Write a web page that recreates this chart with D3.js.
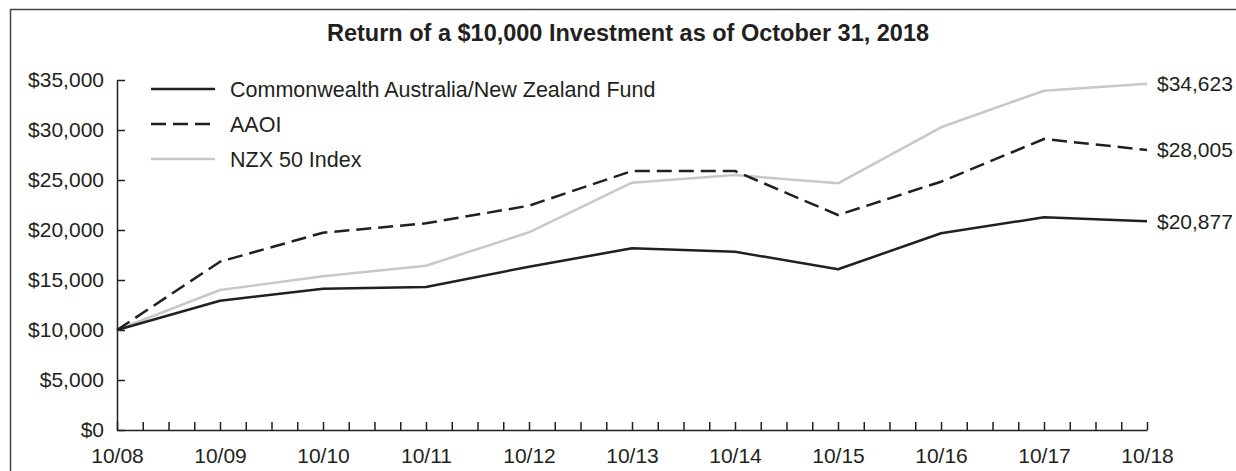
<!DOCTYPE html>
<html>
<head>
<meta charset="utf-8">
<script src="https://cdn.jsdelivr.net/npm/d3@7"></script>
<style>
  body { margin: 0; background: #fff; }
  svg { display: block; font-family: "Liberation Sans", Arial, Helvetica, sans-serif; }
  .axis path, .axis line { stroke: #231f20; stroke-width: 1.5px; }
  .axis text { fill: #231f20; font-size: 21px; }
</style>
</head>
<body>
<script>
// tick labels along the bottom (one per year, October)
let dates = ["10/08", "10/09", "10/10", "10/11", "10/12", "10/13", "10/14", "10/15", "10/16", "10/17", "10/18"];

// series values
let fund = [10000, 12930, 14130, 14300, 16330, 18170, 17830, 16070, 19670, 21270, 20877];
let aaoi = [10000, 16830, 19730, 20670, 22430, 25900, 25900, 21500, 24830, 29100, 28005];
let nzx  = [10000, 14000, 15370, 16430, 19770, 24730, 25500, 24670, 30270, 33930, 34623];

let seriesNames = ["Commonwealth Australia/New Zealand Fund", "AAOI", "NZX 50 Index"];
let yTicks = [0, 5000, 10000, 15000, 20000, 25000, 30000, 35000];

let W = 1236, H = 471;

let svg = d3.select("body").append("svg")
  .attr("width", W)
  .attr("height", H);

// outer frame (runs off the right / bottom edge of the picture)
svg.append("rect")
  .attr("x", 10.5).attr("y", 9.5)
  .attr("width", 1300).attr("height", 500)
  .attr("fill", "none")
  .attr("stroke", "#444")
  .attr("stroke-width", 1.5);

svg.append("text")
  .attr("x", 628)
  .attr("y", 41)
  .attr("text-anchor", "middle")
  .attr("font-size", "23.5px")
  .attr("font-weight", "bold")
  .attr("fill", "#231f20")
  .text("Return of a $10,000 Investment as of October 31, 2018");

// scales
let x = d3.scaleLinear().domain([0, dates.length - 1]).range([117, 1147]);
let y = d3.scaleLinear().domain([0, 35000]).range([430, 80]);

// x axis, quarterly ticks pointing up
svg.append("g")
  .attr("class", "axis")
  .attr("transform", "translate(0,430)")
  .call(d3.axisBottom(x)
    .tickValues(d3.range(0, dates.length - 1 + 0.01, 0.25))
    .tickSizeInner(-8)
    .tickSizeOuter(0)
    .tickPadding(18)
    .tickFormat(d => Number.isInteger(d) ? dates[d] : ""));

// y axis, ticks pointing right
svg.append("g")
  .attr("class", "axis")
  .attr("transform", "translate(117,0)")
  .call(d3.axisLeft(y)
    .tickValues(yTicks)
    .tickSizeInner(-8)
    .tickSizeOuter(0)
    .tickPadding(13)
    .tickFormat(d => "$" + d3.format(",")(d)));

let line = d3.line()
  .x((d, i) => x(i))
  .y(d => y(d));

let styles = [
  {data: fund, color: "#231f20", dash: null, width: 2.5},
  {data: aaoi, color: "#231f20", dash: "15,7", width: 2.5},
  {data: nzx, color: "#c8c8c8", dash: null, width: 2.5}
];

// draw gray first so the black lines sit on top
[2, 1, 0].forEach(k => {
  let s = styles[k];
  svg.append("path")
    .datum(s.data)
    .attr("fill", "none")
    .attr("stroke", s.color)
    .attr("stroke-width", s.width)
    .attr("stroke-dasharray", s.dash)
    .attr("stroke-linejoin", "round")
    .attr("d", line);

  // end value label
  let last = s.data[s.data.length - 1];
  svg.append("text")
    .attr("x", x(dates.length - 1) + 10)
    .attr("y", y(last))
    .attr("dy", "0.35em")
    .attr("font-size", "21px")
    .attr("fill", "#231f20")
    .text("$" + d3.format(",")(last));
});

// legend
let legendY = [89, 124, 159];
styles.forEach((s, k) => {
  svg.append("line")
    .attr("x1", 151).attr("x2", 215)
    .attr("y1", legendY[k]).attr("y2", legendY[k])
    .attr("stroke", s.color)
    .attr("stroke-width", s.width)
    .attr("stroke-dasharray", s.dash);
  svg.append("text")
    .attr("x", 230)
    .attr("y", legendY[k])
    .attr("dy", "0.35em")
    .attr("font-size", "21.5px")
    .attr("fill", "#231f20")
    .text(seriesNames[k]);
});
</script>
</body>
</html>
